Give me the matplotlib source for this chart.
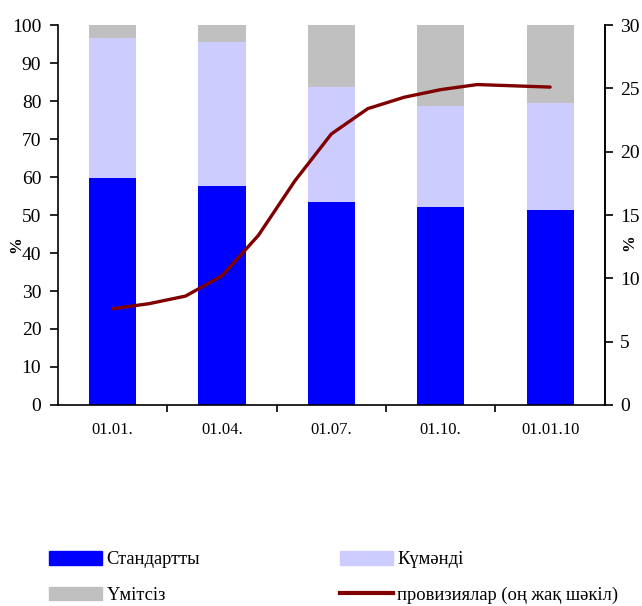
import numpy as np
from matplotlib import pyplot as plt
from matplotlib.patches import Patch
from matplotlib.lines import Line2D

plt.rcParams['font.family'] = ['Liberation Serif', 'DejaVu Serif']

# данные
dates = ['01.01.', '01.04.', '01.07.', '01.10.', '01.01.10']
standard = [59.8, 57.7, 53.5, 52.2, 51.4]      # Стандартты
doubtful = [36.7, 37.8, 30.2, 26.4, 28.1]      # Күмәнді
hopeless = [3.5, 4.5, 16.3, 21.4, 20.5]        # Үмітсіз
# провизиялар, помесячно (правая шкала)
provisions = [7.6, 8.0, 8.6, 10.2, 13.4, 17.7, 21.4, 23.4, 24.3, 24.9, 25.3, 25.2, 25.1]

c_std = '#0000FF'
c_doubt = '#CCCCFF'
c_hope = '#C0C0C0'
c_line = '#800000'

fig = plt.figure(figsize=(6.42, 6.06), dpi=100)
ax = fig.add_axes([0.0903, 0.3317, 0.8517, 0.627])

index = np.arange(len(dates))
bw = 0.43
b1 = np.array(standard)
b2 = b1 + np.array(doubtful)
ax.bar(index, standard, bw, color=c_std, zorder=2)
ax.bar(index, doubtful, bw, bottom=b1, color=c_doubt, zorder=2)
ax.bar(index, hopeless, bw, bottom=b2, color=c_hope, zorder=2)

ax.set_xlim(-0.5, len(dates) - 0.5)
ax.set_ylim(0, 100)
ax.set_yticks(np.arange(0, 101, 10))
ax.set_xticks(index)
ax.set_xticklabels(dates)
ax.set_xticks(np.arange(0.5, len(dates) - 0.5, 1), minor=True)
ax.tick_params(axis='x', which='major', length=0, pad=12, labelsize=12)
ax.tick_params(axis='x', which='minor', length=5, width=1.2, direction='out')
ax.tick_params(axis='y', length=6, width=1.2, pad=6, labelsize=14)
ax.spines['top'].set_visible(False)
for s in ['left', 'bottom', 'right']:
    ax.spines[s].set_linewidth(1.2)

ax2 = ax.twinx()
xm = np.arange(len(provisions)) / 3.0
ax2.plot(xm, provisions, color=c_line, lw=2.4, solid_capstyle='round',
         solid_joinstyle='round')
ax2.set_ylim(0, 30)
ax2.set_yticks(np.arange(0, 31, 5))
ax2.tick_params(axis='y', length=6, width=1.2, pad=5, labelsize=14)
ax2.spines['top'].set_visible(False)
ax2.spines['right'].set_linewidth(1.2)
ax2.spines['left'].set_visible(False)
ax2.spines['bottom'].set_visible(False)

fig.text(16 / 642, 1 - 245 / 606, '%', rotation=90, ha='center', va='center',
         fontsize=12, fontweight='bold')
fig.text(629 / 642, 1 - 243 / 606, '%', rotation=90, ha='center', va='center',
         fontsize=12, fontweight='bold')

leg_kw = dict(frameon=False, fontsize=13.3, handlelength=2.85, handleheight=0.75,
              handletextpad=0.25, labelspacing=1.0, borderaxespad=0, borderpad=0)
fig.legend([Patch(color=c_std), Patch(color=c_hope)], ['Стандартты', 'Үмітсіз'],
           loc='upper left', bbox_to_anchor=(49 / 642, 1 - 551 / 606), **leg_kw)
fig.legend([Patch(color=c_doubt), Line2D([], [], color=c_line, lw=3)],
           ['Күмәнді', 'провизиялар (оң жақ шәкіл)'],
           loc='upper left', bbox_to_anchor=(340 / 642, 1 - 551 / 606), **leg_kw)

plt.savefig('out.png', dpi=100)
